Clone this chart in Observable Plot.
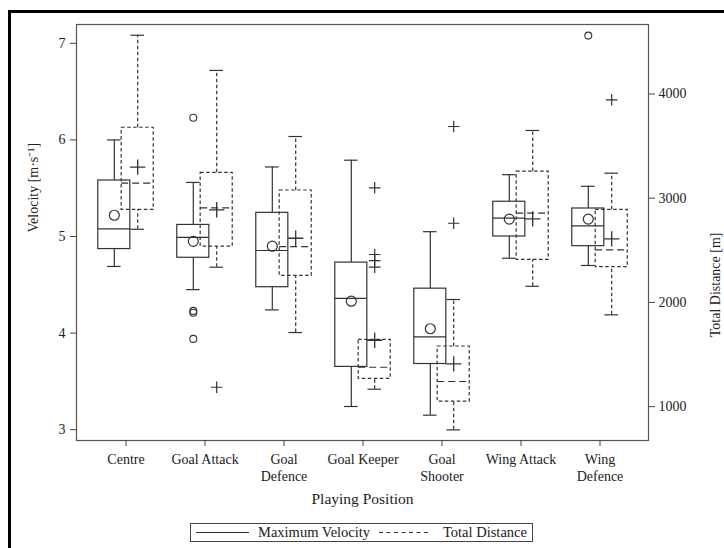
<!DOCTYPE html>
<html><head><meta charset="utf-8">
<script src="https://cdn.jsdelivr.net/npm/d3@7"></script>
<script src="https://cdn.jsdelivr.net/npm/@observablehq/plot@0.6"></script>
<style>
body{margin:0;background:#fff;}
#wrap{position:relative;width:724px;height:548px;overflow:hidden;font-family:"Liberation Serif","Times New Roman",serif;background:#fff;}
#chart{position:absolute;left:0;top:0}
#borderTop{position:absolute;left:8px;top:10px;right:0;height:3px;background:#000}
#borderLeft{position:absolute;left:8px;top:10px;width:3px;bottom:0;background:#000}
#legend{position:absolute;left:190px;top:523px;width:341px;height:17px;border:1px solid #444;color:#222;font-size:14.5px;}
#legend span{position:absolute;top:0;line-height:17px;white-space:nowrap}
#legend svg{position:absolute;top:0}
</style></head>
<body><div id="wrap"><div id="chart"></div><div id="borderTop"></div><div id="borderLeft"></div>
<div id="legend"></div></div>
<script>
// ---- data ----
const positions = ["Centre","Goal Attack","Goal Defence","Goal Keeper","Goal Shooter","Wing Attack","Wing Defence"];
const positionLabels = ["Centre","Goal Attack","Goal\nDefence","Goal Keeper","Goal\nShooter","Wing Attack","Wing\nDefence"];

// Maximum velocity (m·s⁻¹)
const velHigh = [6.00, 5.56, 5.72, 5.79, 5.05, 5.64, 5.52];
const velQ3   = [5.58, 5.12, 5.245, 4.73, 4.46, 5.36, 5.29];
const velMed  = [5.08, 4.99, 4.855, 4.36, 3.96, 5.19, 5.11];
const velQ1   = [4.87, 4.78, 4.475, 3.65, 3.68, 5.00, 4.90];
const velLow  = [4.69, 4.45, 4.24, 3.24, 3.15, 4.775, 4.70];
const velMean = [5.22, 4.95, 4.90, 4.33, 4.045, 5.18, 5.18];
const velOutPos = ["Goal Attack","Goal Attack","Goal Attack","Goal Attack","Wing Defence"];
const velOutVal = [6.23, 4.23, 4.21, 3.94, 7.08];

// Total distance (m)
const distHigh = [4564, 4226, 3592, 1641, 2028, 3650, 3240];
const distQ3   = [3676, 3244, 3074, 1641, 1577, 3256, 2889];
const distMed  = [3144, 2908, 2536, 1378, 1241, 2856, 2505];
const distQ1   = [2889, 2536, 2255, 1267, 1049, 2409, 2338];
const distLow  = [2702, 2338, 1711, 1167, 777, 2155, 1881];
const distMean = [3298, 2889, 2616, 1635, 1411, 2802, 2610];
const distOutPos = ["Goal Attack","Goal Keeper","Goal Keeper","Goal Keeper","Goal Keeper","Goal Shooter","Goal Shooter","Wing Defence"];
const distOutVal = [1186, 3100, 2460, 2402, 2338, 3688, 2760, 3944];

const velTicks = [3,4,5,6,7];
const distTicks = [1000,2000,3000,4000];
const legendItems = ["Maximum Velocity","Total Distance"];

// ---- scales / geometry ----
const W = 724, H = 515, mL = 76, mR = 76, mT = 24, mB = 75;
const vDom = [2.888, 7.195], dDom = [675, 4667];
const toV = d => vDom[0] + (d - dDom[0]) * (vDom[1] - vDom[0]) / (dDom[1] - dDom[0]);
const fromV = v => dDom[0] + (v - vDom[0]) * (dDom[1] - dDom[0]) / (vDom[1] - vDom[0]);

const rows = positions.map((p, i) => ({
  pos: p,
  vHigh: velHigh[i], vQ3: velQ3[i], vMed: velMed[i], vQ1: velQ1[i], vLow: velLow[i], vMean: velMean[i],
  dHigh: toV(distHigh[i]), dQ3: toV(distQ3[i]), dMed: toV(distMed[i]), dQ1: toV(distQ1[i]), dLow: toV(distLow[i]), dMean: toV(distMean[i])
}));
const velOut = velOutPos.map((p, i) => ({pos: p, v: velOutVal[i]}));
const distOut = distOutPos.map((p, i) => ({pos: p, v: toV(distOutVal[i])}));

const step = (W - mL - mR) / (positions.length + 0.2);
const half = step / 2;
const off = 11.7, bw = 32.5, cap = 14;
const col = "#333";
const dash = "3.5,2.5";

const boxV = {insetLeft: half - off - bw / 2, insetRight: half + off - bw / 2};
const boxD = {insetLeft: half + off - bw / 2, insetRight: half - off - bw / 2};
const capV = {insetLeft: half - off - cap / 2, insetRight: half + off - cap / 2};
const capD = {insetLeft: half + off - cap / 2, insetRight: half - off - cap / 2};

const chart = Plot.plot({
  width: W, height: H,
  marginLeft: mL, marginRight: mR, marginTop: mT, marginBottom: mB,
  style: {fontFamily: '"Liberation Serif","Times New Roman",serif', fontSize: "14px", color: "#222", background: "transparent"},
  x: {type: "band", domain: positions, paddingInner: 0, paddingOuter: 0.1},
  y: {domain: vDom},
  marks: [
    Plot.frame({stroke: "#555", strokeWidth: 1.2}),
    // velocity boxes
    Plot.ruleX(rows, {x: "pos", y1: "vQ3", y2: "vHigh", dx: -off, stroke: col, strokeWidth: 1.2}),
    Plot.ruleX(rows, {x: "pos", y1: "vLow", y2: "vQ1", dx: -off, stroke: col, strokeWidth: 1.2}),
    Plot.tickY(rows, {x: "pos", y: "vHigh", ...capV, stroke: col, strokeWidth: 1.2}),
    Plot.tickY(rows, {x: "pos", y: "vLow", ...capV, stroke: col, strokeWidth: 1.2}),
    Plot.barY(rows, {x: "pos", y1: "vQ1", y2: "vQ3", ...boxV, fill: "none", stroke: col, strokeWidth: 1.2}),
    Plot.tickY(rows, {x: "pos", y: "vMed", ...boxV, stroke: col, strokeWidth: 1.2}),
    Plot.dot(rows, {x: "pos", y: "vMean", dx: -off, r: 5, stroke: col, strokeWidth: 1.2}),
    Plot.dot(velOut, {x: "pos", y: "v", dx: -off, r: 3.5, stroke: col, strokeWidth: 1.1}),
    // distance boxes
    Plot.ruleX(rows, {x: "pos", y1: "dQ3", y2: "dHigh", dx: off, stroke: col, strokeWidth: 1.2, strokeDasharray: dash}),
    Plot.ruleX(rows, {x: "pos", y1: "dLow", y2: "dQ1", dx: off, stroke: col, strokeWidth: 1.2, strokeDasharray: dash}),
    Plot.tickY(rows, {x: "pos", y: "dHigh", ...capD, stroke: col, strokeWidth: 1.2}),
    Plot.tickY(rows, {x: "pos", y: "dLow", ...capD, stroke: col, strokeWidth: 1.2}),
    Plot.barY(rows, {x: "pos", y1: "dQ1", y2: "dQ3", ...boxD, fill: "none", stroke: col, strokeWidth: 1.2, strokeDasharray: dash}),
    Plot.tickY(rows, {x: "pos", y: "dMed", ...boxD, stroke: col, strokeWidth: 1.2, strokeDasharray: "7,4"}),
    Plot.dot(rows, {x: "pos", y: "dMean", dx: off, r: 5, symbol: "plus", stroke: col, strokeWidth: 1.3}),
    Plot.dot(distOut, {x: "pos", y: "v", dx: off, r: 3.8, symbol: "plus", stroke: col, strokeWidth: 1.2}),
    // axes
    Plot.axisY({anchor: "left", ticks: velTicks, tickFormat: d => String(d), tickSize: 6, tickPadding: 5, label: null, stroke: "#444"}),
    Plot.axisY({anchor: "right", ticks: distTicks.map(toV), tickFormat: v => String(Math.round(fromV(v) / 100) * 100), tickSize: 6, tickPadding: 4, label: null, stroke: "#444"}),
    Plot.axisX({tickSize: 6, tickPadding: 5, tickFormat: d => positionLabels[positions.indexOf(d)], lineHeight: 1.22, label: null, stroke: "#444"}),
    Plot.text(["Velocity [m·s⁻¹]"], {frameAnchor: "left", dx: -43, rotate: -90, text: d => d, fontSize: 14}),
    Plot.text(["Total Distance [m]"], {frameAnchor: "right", dx: 67, rotate: -90, text: d => d, fontSize: 14}),
    Plot.text(["Playing Position"], {frameAnchor: "bottom", dy: 63, text: d => d, fontSize: 15.5})
  ]
});
document.getElementById("chart").appendChild(chart);

// legend
const lg = document.getElementById("legend");
lg.innerHTML =
  `<svg width="60" height="17" style="left:2px"><line x1="3" x2="56" y1="8.5" y2="8.5" stroke="${col}" stroke-width="1.2"/></svg>` +
  `<span style="left:67px">${legendItems[0]}</span>` +
  `<svg width="60" height="17" style="left:186px"><line x1="2" x2="54" y1="8.5" y2="8.5" stroke="${col}" stroke-width="1.2" stroke-dasharray="4,3.5"/></svg>` +
  `<span style="left:252px">${legendItems[1]}</span>`;
</script>
</body></html>
